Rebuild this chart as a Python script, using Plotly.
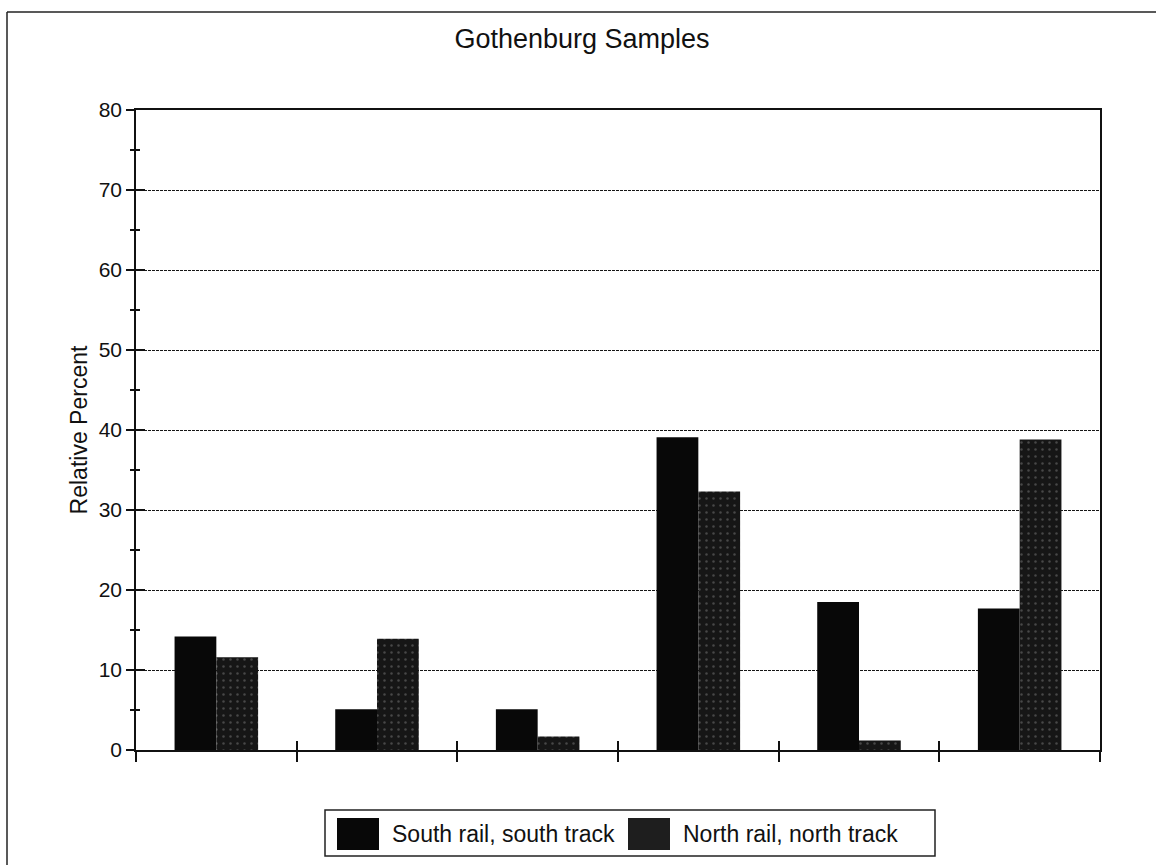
import plotly.graph_objects as go

# Sample groups along the track (no category labels shown on the axis)
categories = [1, 2, 3, 4, 5, 6]
series_names = ["South rail, south track", "North rail, north track"]
south_rail = [14.2, 5.1, 5.1, 39.1, 18.5, 17.7]
north_rail = [11.6, 13.9, 1.7, 32.3, 1.2, 38.8]
y_ticks = [0, 10, 20, 30, 40, 50, 60, 70, 80]

W, H = 1156, 865
L, R, T, B = 136, 1100, 110, 750
FONT = "Liberation Sans, Arial, sans-serif"


def px(x):
    return (x - L) / (R - L)


def py(y):
    return (B - y) / (B - T)


fig = go.Figure()

fig.add_trace(go.Bar(
    x=categories, y=south_rail, name=series_names[0],
    marker=dict(color="#080808", line=dict(width=0)),
    showlegend=False,
))
fig.add_trace(go.Bar(
    x=categories, y=north_rail, name=series_names[1],
    marker=dict(
        color="#161616", line=dict(width=0),
        pattern=dict(shape=".", fgcolor="#7a7a7a", bgcolor="#161616",
                     size=7, solidity=0.1),
    ),
    showlegend=False,
))
# carrier for the overlay axes that draw the inner half of the crossing ticks
fig.add_trace(go.Scatter(x=[None], y=[None], xaxis="x2", yaxis="y2",
                         showlegend=False, hoverinfo="skip"))

boundaries = [c - 0.5 for c in categories] + [categories[-1] + 0.5]
xrange = [boundaries[0], boundaries[-1]]
yrange = [y_ticks[0], y_ticks[-1]]

fig.update_layout(
    width=W, height=H,
    margin=dict(l=L, r=W - R, t=T, b=H - B),
    paper_bgcolor="white", plot_bgcolor="white",
    font=dict(family=FONT, color="#111"),
    barmode="group", bargap=0.48, bargroupgap=0,
    title=dict(text="Gothenburg Samples", x=582 / W, xanchor="center",
               xref="container", y=1 - 29 / H, yanchor="top", yref="container",
               font=dict(size=27, family=FONT, color="#111")),
    xaxis=dict(
        range=xrange, tickmode="array", tickvals=boundaries,
        showticklabels=False, ticks="outside", ticklen=10, tickwidth=1.5,
        tickcolor="#111", showline=True, linecolor="#111", linewidth=1.5,
        mirror=True, showgrid=False, zeroline=False,
    ),
    xaxis2=dict(
        range=xrange, tickmode="array", tickvals=boundaries,
        showticklabels=False, ticks="inside", ticklen=9, tickwidth=1.5,
        tickcolor="#111", overlaying="x", anchor="y", showline=False,
        showgrid=False, zeroline=False,
    ),
    yaxis=dict(
        range=yrange, tickmode="array", tickvals=y_ticks,
        ticks="outside", ticklen=8, tickwidth=1.5, tickcolor="#111",
        tickfont=dict(size=21, family=FONT, color="#111"),
        minor=dict(ticks="outside", dtick=5, tick0=0, ticklen=4,
                   tickwidth=1.5, tickcolor="#111", showgrid=False),
        showline=True, linecolor="#111", linewidth=1.5, mirror=True,
        showgrid=True, gridcolor="#161616", gridwidth=1.3, griddash="3px,1px",
        zeroline=False,
        title=dict(text="Relative Percent", standoff=5,
                   font=dict(size=23, family=FONT, color="#111")),
    ),
    yaxis2=dict(
        range=yrange, tickmode="array", tickvals=y_ticks,
        showticklabels=False, ticks="inside", ticklen=9, tickwidth=1.5,
        tickcolor="#111",
        minor=dict(ticks="inside", dtick=5, tick0=0, ticklen=4,
                   tickwidth=1.5, tickcolor="#111", showgrid=False),
        overlaying="y", anchor="x", side="left", showline=False,
        showgrid=False, zeroline=False,
    ),
)

shapes = []
# outer frame of the chart sheet (left and top edges)
shapes.append(dict(type="line", xref="paper", yref="paper",
                   x0=px(7), x1=px(7), y0=py(12), y1=py(H + 5),
                   line=dict(color="#222", width=1.5)))
shapes.append(dict(type="line", xref="paper", yref="paper",
                   x0=px(7), x1=px(W + 5), y0=py(12), y1=py(12),
                   line=dict(color="#222", width=1.5)))

# legend box with square swatches
shapes.append(dict(type="rect", xref="paper", yref="paper",
                   x0=px(325), x1=px(935), y0=py(810), y1=py(856),
                   line=dict(color="#222", width=1.5), fillcolor="white"))
swatch_x = [337, 628]
swatch_fill = ["#080808", "#1e1e1e"]
for sx, fill in zip(swatch_x, swatch_fill):
    shapes.append(dict(type="rect", xref="paper", yref="paper",
                       x0=px(sx), x1=px(sx + 42), y0=py(818), y1=py(850),
                       line=dict(width=0), fillcolor=fill))

annotations = []
for sx, name in zip(swatch_x, series_names):
    annotations.append(dict(
        xref="paper", yref="paper", x=px(sx + 53), y=py(834),
        xanchor="left", yanchor="middle", text=name, showarrow=False,
        font=dict(size=23, family=FONT, color="#111"),
    ))

fig.update_layout(shapes=shapes, annotations=annotations)

fig.write_html("out.html")
